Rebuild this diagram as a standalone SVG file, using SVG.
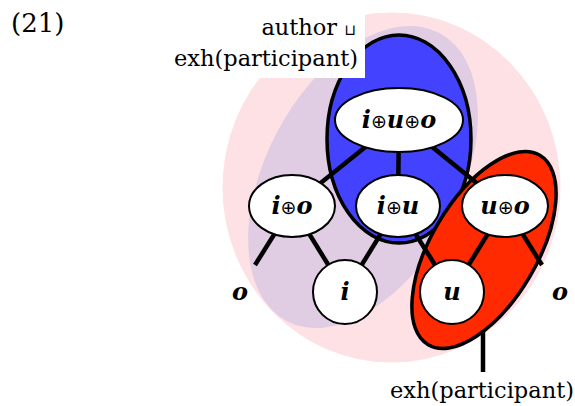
<svg xmlns="http://www.w3.org/2000/svg" width="575" height="406" viewBox="0 0 575 406">
<style>
.lbl{font-family:"DejaVu Serif","Liberation Serif",serif;font-size:22.5px;fill:#000}
.nd{fill:#fff;stroke:#000;stroke-width:2}
.nt{font-family:"DejaVu Serif","Liberation Serif",serif;font-size:24px;font-weight:bold;font-style:italic;text-anchor:middle;fill:#000}
.op{font-family:"DejaVu Sans",sans-serif;font-size:19px;font-weight:normal;font-style:normal}
.ed{stroke:#000;stroke-width:4.5;fill:none}
</style>
<rect width="575" height="406" fill="#fff"/>
<g id="regions">
<ellipse cx="391.5" cy="187.5" rx="169" ry="175" fill="#fde1e4"/>
<ellipse cx="0" cy="0" rx="163" ry="97" transform="translate(363,177) rotate(-62)" fill="#e0cce3"/>
<ellipse cx="399" cy="139" rx="72" ry="104" fill="#4343ff" stroke="#000" stroke-width="3.5"/>
<ellipse cx="0" cy="0" rx="110" ry="53" transform="translate(484,250) rotate(-59.5)" fill="#ff2a00" stroke="#000" stroke-width="3.5"/>
</g>
<g id="label-author">
<rect x="160" y="0" width="205" height="78" fill="#fff"/>
<text class="lbl" x="356" y="35" text-anchor="end">author <tspan font-family="DejaVu Sans,sans-serif" font-size="15">⊔</tspan></text>
<text class="lbl" x="358" y="66" text-anchor="end">exh(participant)</text>
</g>
<text id="num" class="lbl" x="11" y="32" style="font-size:26px">(21)</text>
<g id="connectors">
<line class="ed" x1="399" y1="120" x2="292" y2="206"/>
<line class="ed" x1="399" y1="120" x2="398" y2="206"/>
<line class="ed" x1="399" y1="120" x2="505" y2="206"/>
<line class="ed" x1="292" y1="206" x2="255" y2="265"/>
<line class="ed" x1="292" y1="206" x2="345" y2="292"/>
<line class="ed" x1="398" y1="206" x2="345" y2="292"/>
<line class="ed" x1="398" y1="206" x2="452" y2="292"/>
<line class="ed" x1="505" y1="206" x2="452" y2="292"/>
<line class="ed" x1="505" y1="206" x2="542" y2="265"/>
<line class="ed" x1="483" y1="330" x2="483" y2="372"/>
</g>
<g id="n-iuo"><ellipse class="nd" cx="399" cy="120" rx="64" ry="32"/><text class="nt" x="399" y="128">i<tspan class="op">⊕</tspan>u<tspan class="op">⊕</tspan>o</text></g>
<g id="n-io"><ellipse class="nd" cx="292" cy="206" rx="43" ry="31"/><text class="nt" x="292" y="214">i<tspan class="op">⊕</tspan>o</text></g>
<g id="n-iu"><ellipse class="nd" cx="398" cy="206" rx="42" ry="31"/><text class="nt" x="398" y="214">i<tspan class="op">⊕</tspan>u</text></g>
<g id="n-uo"><ellipse class="nd" cx="505" cy="206" rx="43" ry="31"/><text class="nt" x="505" y="214">u<tspan class="op">⊕</tspan>o</text></g>
<g id="n-i"><circle class="nd" cx="345" cy="292" r="32"/><text class="nt" x="345" y="300">i</text></g>
<g id="n-u"><circle class="nd" cx="452" cy="292" r="32"/><text class="nt" x="452" y="300">u</text></g>
<g id="n-o-left"><text class="nt" x="240" y="300">o</text></g>
<g id="n-o-right"><text class="nt" x="560" y="300">o</text></g>
<g id="label-exh"><text class="lbl" x="482" y="398" text-anchor="middle">exh(participant)</text></g>
</svg>
